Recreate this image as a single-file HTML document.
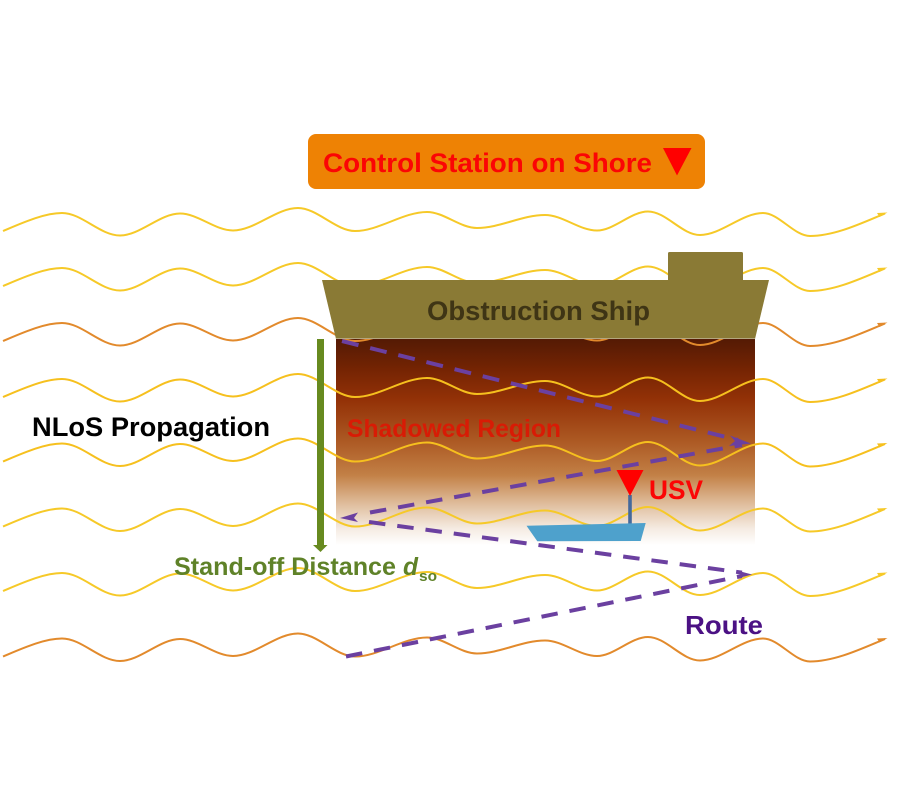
<!DOCTYPE html>
<html>
<head>
<meta charset="utf-8">
<style>
html,body{margin:0;padding:0;background:#fff;width:900px;height:800px;overflow:hidden}
svg{display:block}
text{font-family:"Liberation Sans",sans-serif;font-weight:bold}
</style>
</head>
<body>
<svg width="900" height="800" viewBox="0 0 900 800" xmlns="http://www.w3.org/2000/svg">
<defs>
<linearGradient id="sh" x1="0" y1="0" x2="0" y2="1">
<stop offset="0" stop-color="#541a04"/>
<stop offset="0.15" stop-color="#752403"/>
<stop offset="0.3" stop-color="#943207"/>
<stop offset="0.5" stop-color="#ad5a24"/>
<stop offset="0.66" stop-color="#c28046"/>
<stop offset="0.8" stop-color="#dfbd9c"/>
<stop offset="0.92" stop-color="#f5ebe2"/>
<stop offset="1" stop-color="#ffffff"/>
</linearGradient>
<g id="w">
<path fill="none" stroke-width="2" d="M3 231C22 223 44 213 62 213C82 213 100 235.5 120 235.5C140 235.5 160 213.5 180 213.5C198 213.5 215 230.5 233 230.5C255 230.5 276 208 298 208C317 208 336 231 355 231C379 231 403 212 427 212C444 212 460 228 477 228C500 228 522 215 545 215C563 215 579 230.5 597 230.5C614 230.5 631 211.5 648 211.5C666 211.5 682 235 700 235C721 235 742 213 763 213C779 213 794 236 810 236C835 236 862 223 885 213.5"/>
<polygon stroke="none" points="887.5,212.5 877,213 879.5,217"/>
</g>
</defs>

<rect x="336" y="339" width="419" height="206" fill="url(#sh)"/>

<use href="#w" stroke="#f6c928" fill="#f6c928"/>
<use href="#w" y="55" stroke="#f6c928" fill="#f6c928"/>
<use href="#w" y="110" stroke="#e28a2c" fill="#e28a2c"/>
<use href="#w" y="166" stroke="#f6c01e" fill="#f6c01e"/>
<use href="#w" y="230.5" stroke="#f6c01e" fill="#f6c01e"/>
<use href="#w" y="295.5" stroke="#f6c928" fill="#f6c928"/>
<use href="#w" y="360" stroke="#f6c928" fill="#f6c928"/>
<use href="#w" y="425.5" stroke="#e28a2c" fill="#e28a2c"/>

<rect x="308" y="134" width="397" height="55" rx="8" fill="#ee8204"/>
<text x="323" y="172" font-size="27" fill="#fb0505" textLength="329" lengthAdjust="spacingAndGlyphs">Control Station on Shore</text>
<polygon points="663,148 691.5,148 677,175.5" fill="#ff0000"/>

<path d="M668 282V253.5Q668 252 669.5 252H741.5Q743 252 743 253.5V282Z" fill="#8a7a35"/>
<polygon points="322,280 769,280 755,339 336,339" fill="#8a7a35"/>
<line x1="336" y1="338.5" x2="755" y2="338.5" stroke="#b3a67f" stroke-width="1"/>
<text x="427" y="320" font-size="27" fill="#3f3515" textLength="223" lengthAdjust="spacingAndGlyphs">Obstruction Ship</text>

<rect x="317" y="339" width="7" height="207" fill="#678a1f"/>
<polygon points="313,545 327.5,545 320.5,552" fill="#678a1f"/>

<text x="32" y="436" font-size="27" fill="#000" textLength="238" lengthAdjust="spacingAndGlyphs">NLoS Propagation</text>
<text x="347" y="437" font-size="25" fill="#d81b05" textLength="214" lengthAdjust="spacingAndGlyphs">Shadowed Region</text>
<text x="649" y="499" font-size="27" fill="#fb0505" textLength="54" lengthAdjust="spacingAndGlyphs">USV</text>
<text x="174" y="575" font-size="25" fill="#5f8228" textLength="222" lengthAdjust="spacingAndGlyphs">Stand-off Distance</text>
<text x="403" y="575" font-size="25" font-style="italic" fill="#5f8228" textLength="15" lengthAdjust="spacingAndGlyphs">d</text>
<text x="419" y="581" font-size="15" fill="#5f8228" textLength="18" lengthAdjust="spacingAndGlyphs">so</text>
<text x="685" y="634" font-size="26" fill="#4b1184" textLength="78" lengthAdjust="spacingAndGlyphs">Route</text>

<g fill="none" stroke="#6b40a0" stroke-width="4">
<line x1="342" y1="341" x2="738" y2="440" stroke-dasharray="17 12"/>
<line x1="370" y1="512.5" x2="742" y2="445" stroke-dasharray="16.5 12"/>
<line x1="369" y1="522" x2="742" y2="572.6" stroke-dasharray="16.5 12"/>
<line x1="346" y1="656.5" x2="742" y2="576" stroke-dasharray="16.5 12"/>
</g>
<g fill="#6b40a0">
<polygon points="751,443.5 730,435.5 735,441 729,446"/>
<polygon points="340,518 358,512.5 354,518 358,522"/>
<polygon points="752,574.5 737,570.5 741,574.5 737,578.5"/>
</g>

<rect x="628.2" y="495" width="3.6" height="29" fill="#44699c"/>
<polygon points="616.5,470 643.5,470 630,496" fill="#ff0000"/>
<polygon points="526.5,525.7 645.7,523 640.7,541 537.3,541.3" fill="#4ea1cc"/>
</svg>
</body>
</html>
